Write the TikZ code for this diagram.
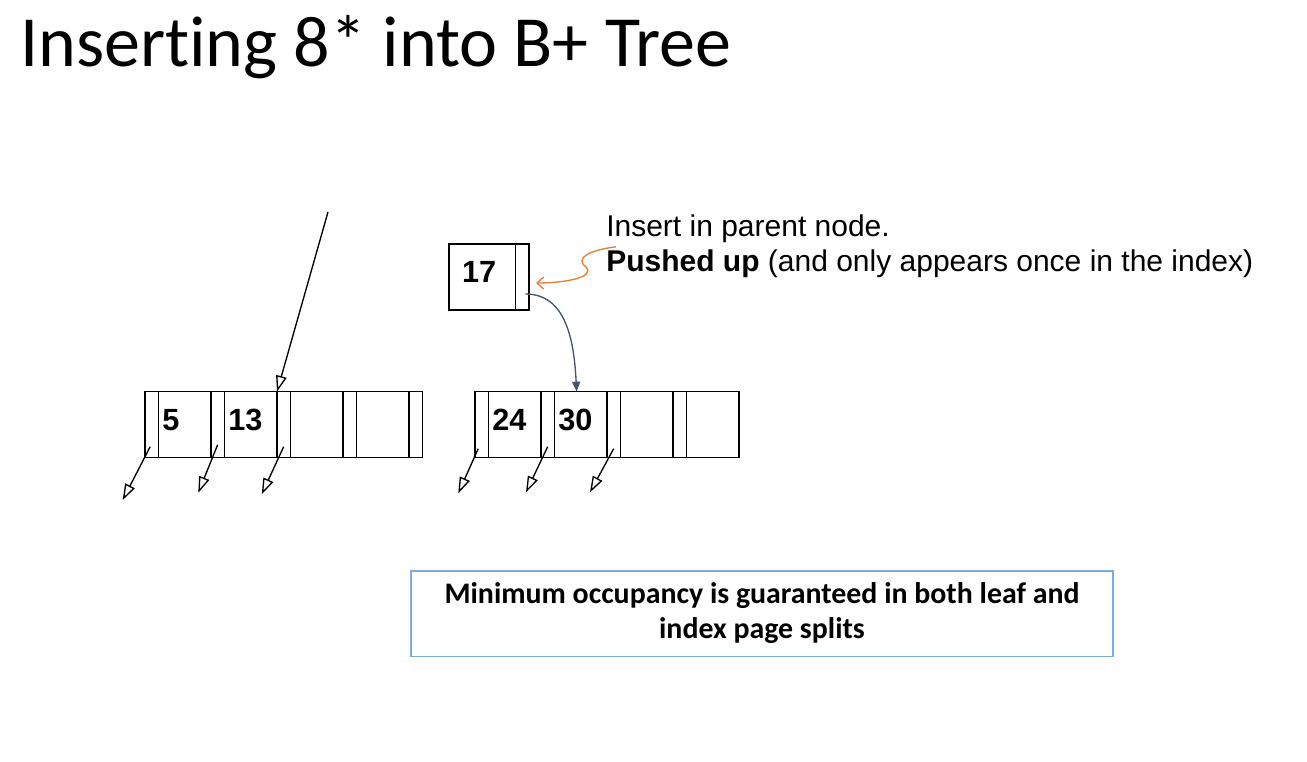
\documentclass[tikz,border=0pt]{standalone}
\usepackage{fontspec}
\setmainfont{Liberation Sans}
\newfontfamily\slidefont[Ligatures=NoCommon]{Carlito}
\usetikzlibrary{arrows.meta,positioning,calc}
\definecolor{pushed}{RGB}{237,125,49}
\definecolor{childlink}{RGB}{68,84,106}
\definecolor{notebox}{RGB}{124,170,222}
\tikzset{
  slot/.style={draw,line width=1pt,outer sep=0pt,minimum height=49.5pt,inner sep=0pt},
  ptrslot/.style={slot,minimum width=10pt},
  keyslot/.style={slot,minimum width=39.5pt,text width=33.5pt,inner xsep=3pt,align=left,
    text depth=7pt,font=\fontsize{23}{26}\selectfont\bfseries},
  ptr/.style={-{Triangle[open,length=12pt,width=8pt]},line width=1pt},
  pushlink/.style={-{Straight Barb[length=5pt,width=9pt]},line width=1pt,draw=pushed},
  childptr/.style={-{Triangle[length=7.5pt,width=6pt]},line width=1pt,draw=childlink},
}
\begin{document}
\begin{tikzpicture}[x=0.75pt,y=-0.75pt]
\useasboundingbox (0,0) rectangle (1307,761);

\node[anchor=base west,inner sep=0pt,font=\slidefont\fontsize{54}{60}\selectfont] (title) at (20,66.7) {Inserting 8* into B+ Tree};

% index node holding the pushed-up key
\node[keyslot,anchor=north west,minimum width=50pt,text width=30.5pt,inner xsep=9.75pt] (k17) at (449,244) {17};
\node[ptrslot,right=0pt of k17] (p17) {};

% left leaf-level index page
\node[ptrslot,anchor=north west] (lp1) at (145,391.7) {};
\node[keyslot,right=0pt of lp1] (lk1) {5};
\node[ptrslot,right=0pt of lk1] (lp2) {};
\node[keyslot,right=0pt of lp2] (lk2) {13};
\node[ptrslot,right=0pt of lk2] (lp3) {};
\node[keyslot,right=0pt of lp3] (lk3) {};
\node[ptrslot,right=0pt of lk3] (lp4) {};
\node[keyslot,right=0pt of lp4] (lk4) {};
\node[ptrslot,right=0pt of lk4] (lp5) {};

% right index page
\node[ptrslot,anchor=north west] (rp1) at (475,391.7) {};
\node[keyslot,right=0pt of rp1] (rk1) {24};
\node[ptrslot,right=0pt of rk1] (rp2) {};
\node[keyslot,right=0pt of rp2] (rk2) {30};
\node[ptrslot,right=0pt of rk2] (rp3) {};
\node[keyslot,right=0pt of rp3] (rk3) {};
\node[ptrslot,right=0pt of rk3] (rp4) {};
\node[keyslot,right=0pt of rp4] (rk4) {};

\node[anchor=north west,inner sep=0pt,align=left,font=\fontsize{22.5}{26.3}\selectfont] (note) at (606,214)
  {Insert in parent node.\\\textbf{Pushed up} (and only appears once in the index)};

\node[draw=notebox,line width=1pt,minimum width=526.5pt,minimum height=64pt,align=center,
  font=\slidefont\fontsize{22.4}{26.3}\selectfont\bfseries] (occ) at (762,613.5)
  {Minimum occupancy is guaranteed in both leaf and\\index page splits};

% free ends of the child pointers
\coordinate (from) at (328,212);
\coordinate (lc1) at (122.7,500);
\coordinate (lc2) at (198.3,492.7);
\coordinate (lc3) at (261.7,494.3);
\coordinate (rc1) at (458.3,493.3);
\coordinate (rc2) at (526,492.3);
\coordinate (rc3) at (590,492.3);

\draw[ptr] (from) -- (lp3.north west);
\draw[ptr] ($(lp1.south)+(-1.5,-11)$) -- (lc1);
\draw[ptr] ($(lp2.south)+(0,-13)$) -- (lc2);
\draw[ptr] ($(lp3.south)+(0,-11)$) -- (lc3);
\draw[ptr] ($(rp1.south)+(-3.5,-9)$) -- (rc1);
\draw[ptr] ($(rp2.south)+(0,-11)$) -- (rc2);
\draw[ptr] ($(rp3.south)+(0,-9)$) -- (rc3);

\draw[pushlink] ($(note.west)+(10,1)$) .. controls (590,250) and (574,258) .. (586,267)
  .. controls (596,278) and (562,283) .. ($(p17.east)+(7,6)$);
\draw[childptr] ($(p17.south)+(3,-16)$) .. controls (566,294) and (574,340) .. ($(rk2.north)+(-4,0)$);
\end{tikzpicture}
\end{document}
